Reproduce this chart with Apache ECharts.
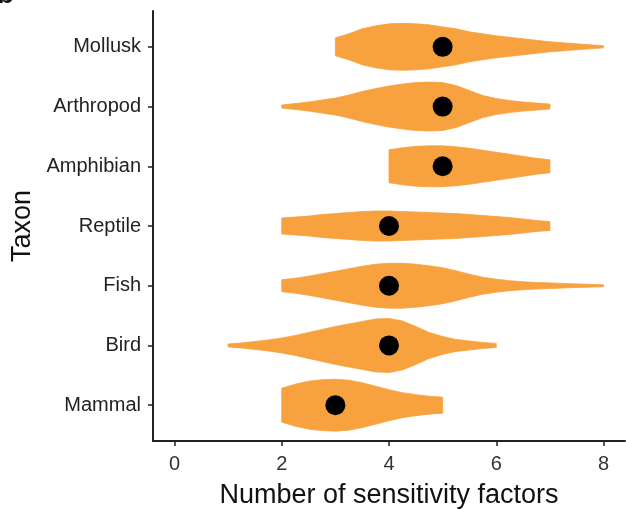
<!DOCTYPE html>
<html>
<head>
<meta charset="utf-8">
<script src="https://cdn.jsdelivr.net/npm/echarts@6/dist/echarts.min.js"></script>
<style>html,body{margin:0;padding:0;background:#fff}#c{width:626px;height:509px}</style>
</head>
<body>
<div id="c"></div>
<script>
// Categories (bottom to top)
const taxa = ["Mammal", "Bird", "Fish", "Reptile", "Amphibian", "Arthropod", "Mollusk"];
// Median number of sensitivity factors
const medians = [3, 4, 4, 4, 5, 5, 5];
// Violin density profiles: starting x value, grid step, half-widths (in category units)
const violinStep = 0.25;
const violinStart = [2, 1, 2, 2, 4, 2, 3];
const mammalWidth = [0.284, 0.351, 0.401, 0.426, 0.435, 0.418, 0.376, 0.318, 0.259, 0.209, 0.176, 0.150, 0.134];
const birdWidth = [0.025, 0.042, 0.067, 0.092, 0.125, 0.167, 0.217, 0.268, 0.318, 0.360, 0.401, 0.443, 0.452, 0.410, 0.318, 0.217, 0.150, 0.100, 0.075, 0.050, 0.033];
const fishWidth = [0.100, 0.125, 0.159, 0.201, 0.242, 0.284, 0.326, 0.360, 0.376, 0.376, 0.360, 0.334, 0.301, 0.251, 0.192, 0.142, 0.109, 0.084, 0.067, 0.055, 0.047, 0.038, 0.030, 0.023, 0.017];
const reptileWidth = [0.134, 0.150, 0.167, 0.192, 0.209, 0.226, 0.242, 0.251, 0.251, 0.242, 0.234, 0.226, 0.217, 0.209, 0.192, 0.176, 0.159, 0.142, 0.117, 0.092, 0.075];
const amphibianWidth = [0.276, 0.309, 0.334, 0.343, 0.343, 0.326, 0.301, 0.268, 0.234, 0.201, 0.167, 0.134, 0.109];
const arthropodWidth = [0.025, 0.050, 0.075, 0.109, 0.142, 0.192, 0.251, 0.301, 0.343, 0.376, 0.401, 0.410, 0.401, 0.351, 0.268, 0.184, 0.134, 0.100, 0.075, 0.059, 0.042];
const molluskWidth = [0.150, 0.217, 0.301, 0.351, 0.385, 0.393, 0.385, 0.368, 0.334, 0.301, 0.251, 0.217, 0.184, 0.159, 0.134, 0.109, 0.084, 0.067, 0.050, 0.033, 0.017];
const violinWidths = [mammalWidth, birdWidth, fishWidth, reptileWidth, amphibianWidth, arthropodWidth, molluskWidth];
// Axis ticks
const xTicks = [0, 2, 4, 6, 8];
const yTicks = [1, 2, 3, 4, 5, 6, 7];

const chart = echarts.init(document.getElementById('c'));
const ink = '#222';
const font = 'Liberation Sans, Arial, sans-serif';

chart.setOption({
  animation: false,
  grid: { left: 153, right: 1, top: 11, bottom: 68, outerBoundsMode: 'none', containLabel: false },
  graphic: [{
    type: 'text', left: -3, top: -19,
    style: { text: 'b', font: 'bold 28px Liberation Sans, Arial, sans-serif', fill: '#111' }
  }],
  xAxis: {
    type: 'value', min: -0.4, max: 8.4,
    name: 'Number of sensitivity factors', nameLocation: 'middle', nameGap: 41,
    nameTextStyle: { fontSize: 27, color: '#111', fontFamily: font },
    axisLine: { show: true, onZero: false, lineStyle: { color: ink, width: 2 } },
    axisTick: { show: true, customValues: xTicks, length: 5, lineStyle: { color: ink, width: 1.5 } },
    axisLabel: { customValues: xTicks, fontSize: 20, color: '#333', margin: 13, fontFamily: font },
    splitLine: { show: false }
  },
  yAxis: {
    type: 'value', min: 0.4, max: 7.6,
    name: 'Taxon', nameLocation: 'middle', nameGap: 117,
    nameTextStyle: { fontSize: 27, color: '#111', fontFamily: font },
    axisLine: { show: true, onZero: false, lineStyle: { color: ink, width: 2 } },
    axisTick: { show: true, customValues: yTicks, length: 5, lineStyle: { color: ink, width: 1.5 } },
    axisLabel: { customValues: yTicks, fontSize: 20, color: '#222', margin: 12, fontFamily: font,
      formatter: v => taxa[Math.round(v) - 1] || '' },
    splitLine: { show: false }
  },
  series: [{
    type: 'custom',
    data: taxa.map((t, i) => [i]),
    renderItem: function (params, api) {
      const i = api.value(0);
      const w = violinWidths[i];
      const s = violinStart[i];
      const pos = i + 1;
      const pts = [];
      for (let k = 0; k < w.length; k++) pts.push(api.coord([s + k * violinStep, pos + w[k]]));
      for (let k = w.length - 1; k >= 0; k--) pts.push(api.coord([s + k * violinStep, pos - w[k]]));
      return { type: 'polygon', shape: { points: pts }, style: { fill: '#F8A13F', stroke: '#F8A13F', lineWidth: 0.8 } };
    },
    z: 2
  }, {
    type: 'scatter',
    data: medians.map((m, i) => [m, i + 1]),
    symbolSize: 20,
    itemStyle: { color: '#000', opacity: 1 },
    z: 3
  }]
});
</script>
</body>
</html>
